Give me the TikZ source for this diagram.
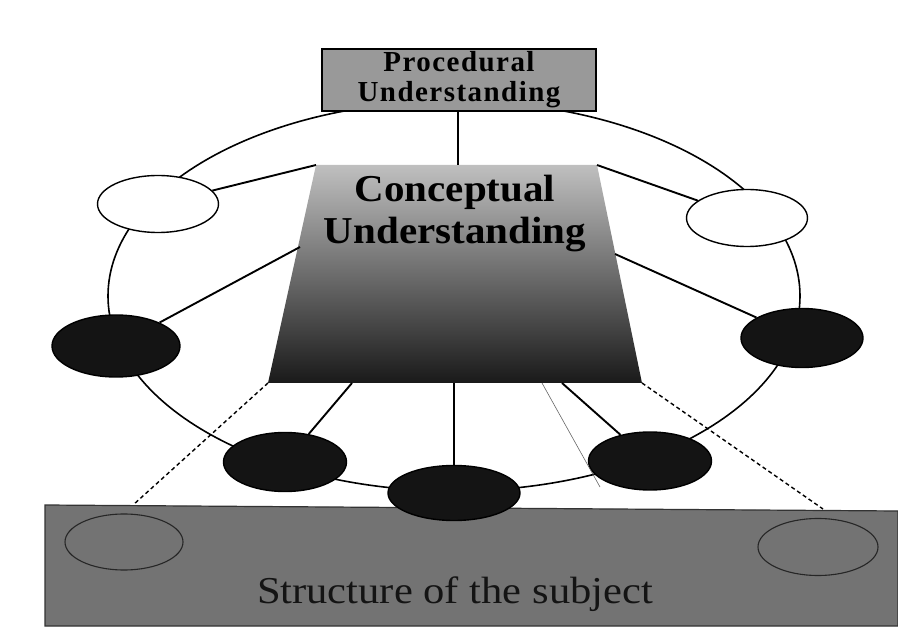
\documentclass[tikz,border=0pt]{standalone}
\usepackage{fontspec}
\setmainfont{Liberation Serif}
\usetikzlibrary{shapes.geometric}
\begin{document}
\begin{tikzpicture}[x=1pt,y=-1pt,
  ov/.style={ellipse, draw=black, line width=1.4pt, inner sep=0pt},
  whiteov/.style={ov, fill=white},
  darkov/.style={ov, fill=black!92},
  ghostov/.style={ellipse, draw=black!85, line width=1.1pt, inner sep=0pt},
  ringline/.style={line width=1.6pt},
  spoke/.style={line width=1.9pt},
  dashline/.style={line width=1.4pt, dash pattern=on 4pt off 3pt},
  strayline/.style={line width=0.6pt, black!60}]
\useasboundingbox (0,0) rectangle (898,628);
% ring
\coordinate (ringc) at (454,296);
\draw[ringline] (ringc) ellipse [x radius=346pt, y radius=195pt];
% banner
\coordinate (bTL) at (45,505);
\coordinate (bTR) at (898,511);
\coordinate (bBR) at (898,626);
\coordinate (bBL) at (45,626);
\filldraw[fill=black!55, draw=black!80, line width=1.2pt] (bTL) -- (bTR) -- (bBR) -- (bBL) -- cycle;
\node[ghostov, minimum width=118pt, minimum height=56pt] (gl) at (124,542) {};
\node[ghostov, minimum width=120pt, minimum height=57pt] (gr) at (818,547) {};
\node[text=black!92, inner sep=0pt] (subj) at (455,594)
  {\scalebox{1.12}[1]{\fontsize{38}{40}\selectfont Structure of the subject}};
% trapezoid
\coordinate (tTL) at (316,165);
\coordinate (tTR) at (597,165);
\coordinate (tBR) at (642,383);
\coordinate (tBL) at (268,383);
\shade[top color=black!25, middle color=black!58, bottom color=black!90]
  (tTL) -- (tTR) -- (tBR) -- (tBL) -- cycle;
\node[inner sep=0pt, align=center, font=\fontsize{38}{42}\selectfont\bfseries] (concept) at (455,214)
  {\scalebox{1.08}[1]{Conceptual}\\\scalebox{1.08}[1]{Understanding}};
% ellipses
\node[whiteov, minimum width=121pt, minimum height=57pt] (wl) at (158,204) {};
\node[whiteov, minimum width=121pt, minimum height=57pt] (wr) at (747,218) {};
\node[darkov, minimum width=128pt, minimum height=62pt] (kl) at (116,346) {};
\node[darkov, minimum width=122pt, minimum height=59pt] (kr) at (802,338) {};
\node[darkov, minimum width=123pt, minimum height=59pt] (bl) at (285,462) {};
\node[darkov, minimum width=132pt, minimum height=55pt] (bc) at (454,493) {};
\node[darkov, minimum width=123pt, minimum height=58pt] (br) at (650,461) {};
% procedural box
\node[draw=black, line width=1.2pt, fill=black!40, minimum width=274pt, minimum height=62pt,
      inner sep=0pt, align=center,
      font=\fontsize{29}{30}\selectfont\bfseries\addfontfeature{LetterSpace=5}] (proc) at (459,80)
  {Procedural\\Understanding};
% connectors
\coordinate (tTop) at (458,165);
\draw[line width=1.4pt] (proc.south -| tTop) -- (tTop);
\draw[spoke] (tTL) -- (wl);
\draw[spoke] (tTR) -- (wr);
\coordinate (tL) at (300,247);
\coordinate (tR) at (615,254);
\draw[spoke] (tL) -- (kl);
\draw[spoke] (tR) -- (kr);
\coordinate (tb1) at (352,383);
\coordinate (tb2) at (454,383);
\coordinate (tb3) at (562,383);
\draw[spoke] (tb1) -- (bl);
\draw[spoke] (tb2) -- (bc.north);
\draw[spoke] (tb3) -- (br);
\coordinate (s1) at (542,383);
\coordinate (s2) at (600,487);
\draw[strayline] (s1) -- (s2);
\coordinate (dl) at (133,505);
\coordinate (dr) at (823,509);
\draw[dashline] (tBL) -- (dl);
\draw[dashline] (tBR) -- (dr);
\end{tikzpicture}
\end{document}
